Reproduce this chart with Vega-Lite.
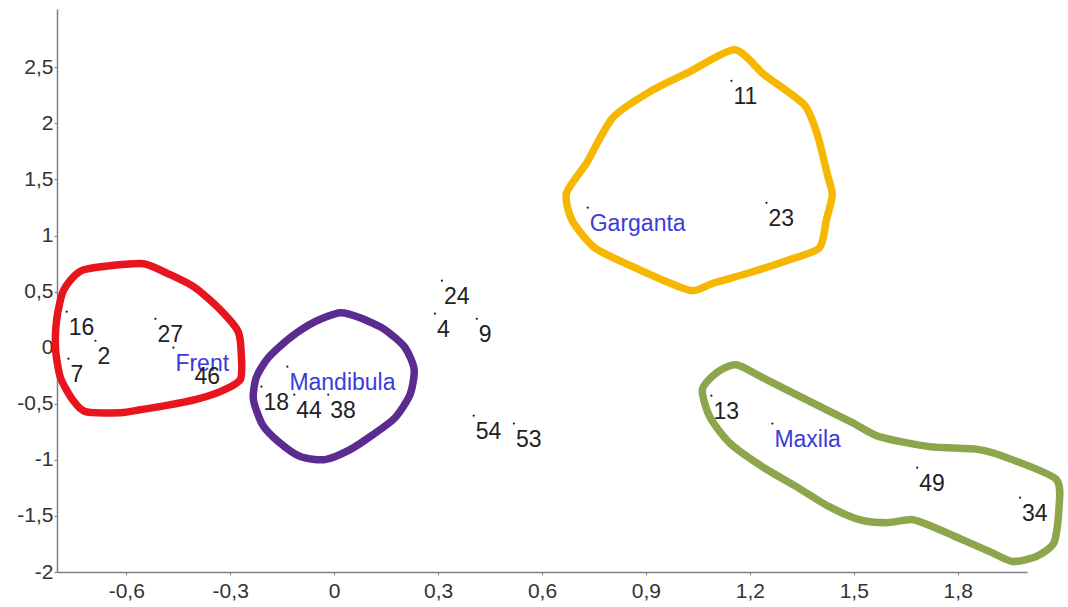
{
  "$schema": "https://vega.github.io/schema/vega-lite/v6.json",
  "width": 970,
  "height": 563,
  "autosize": {"type": "none"},
  "padding": {"left": 57, "top": 9, "right": 41, "bottom": 35},
  "background": "white",
  "config": {
    "view": {"stroke": null},
    "axis": {
      "grid": false,
      "title": null,
      "domainColor": "#808080",
      "domainWidth": 1.5,
      "tickColor": "#808080",
      "tickSize": 3,
      "labelColor": "#333333",
      "labelFont": "Liberation Sans",
      "labelFontSize": 21,
      "format": "~g",
      "labelExpr": "replace(replace(datum.label, '.', ','), '−', '-')"
    }
  },
  "datasets": {
    "points": [
      {"label": "16", "kind": "case", "x": -0.772, "y": 0.321},
      {"label": "2", "kind": "case", "x": -0.689, "y": 0.062},
      {"label": "7", "kind": "case", "x": -0.767, "y": -0.098},
      {"label": "27", "kind": "case", "x": -0.516, "y": 0.258},
      {"label": "Frent", "kind": "group", "x": -0.464, "y": 0.0},
      {"label": "46", "kind": "case", "x": -0.409, "y": -0.116},
      {"label": "18", "kind": "case", "x": -0.21, "y": -0.348},
      {"label": "Mandibula", "kind": "group", "x": -0.135, "y": -0.169},
      {"label": "44", "kind": "case", "x": -0.115, "y": -0.419},
      {"label": "38", "kind": "case", "x": -0.017, "y": -0.419},
      {"label": "24", "kind": "case", "x": 0.311, "y": 0.597},
      {"label": "4", "kind": "case", "x": 0.291, "y": 0.303},
      {"label": "9", "kind": "case", "x": 0.412, "y": 0.258},
      {"label": "54", "kind": "case", "x": 0.403, "y": -0.606},
      {"label": "53", "kind": "case", "x": 0.519, "y": -0.677},
      {"label": "Garganta", "kind": "group", "x": 0.732, "y": 1.248},
      {"label": "11", "kind": "case", "x": 1.147, "y": 2.38},
      {"label": "23", "kind": "case", "x": 1.248, "y": 1.292},
      {"label": "13", "kind": "case", "x": 1.089, "y": -0.428},
      {"label": "Maxila", "kind": "group", "x": 1.265, "y": -0.677},
      {"label": "49", "kind": "case", "x": 1.683, "y": -1.07},
      {"label": "34", "kind": "case", "x": 1.98, "y": -1.337}
    ],
    "loops": [
      {"g": "Frent", "i": 0, "x": -0.723, "y": 0.695},
      {"g": "Frent", "i": 1, "x": -0.646, "y": 0.731},
      {"g": "Frent", "i": 2, "x": -0.55, "y": 0.749},
      {"g": "Frent", "i": 3, "x": -0.473, "y": 0.651},
      {"g": "Frent", "i": 4, "x": -0.401, "y": 0.535},
      {"g": "Frent", "i": 5, "x": -0.329, "y": 0.339},
      {"g": "Frent", "i": 6, "x": -0.277, "y": 0.143},
      {"g": "Frent", "i": 7, "x": -0.268, "y": -0.062},
      {"g": "Frent", "i": 8, "x": -0.271, "y": -0.285},
      {"g": "Frent", "i": 9, "x": -0.329, "y": -0.392},
      {"g": "Frent", "i": 10, "x": -0.401, "y": -0.463},
      {"g": "Frent", "i": 11, "x": -0.487, "y": -0.517},
      {"g": "Frent", "i": 12, "x": -0.559, "y": -0.553},
      {"g": "Frent", "i": 13, "x": -0.617, "y": -0.579},
      {"g": "Frent", "i": 14, "x": -0.718, "y": -0.57},
      {"g": "Frent", "i": 15, "x": -0.755, "y": -0.463},
      {"g": "Frent", "i": 16, "x": -0.79, "y": -0.267},
      {"g": "Frent", "i": 17, "x": -0.804, "y": -0.018},
      {"g": "Frent", "i": 18, "x": -0.801, "y": 0.25},
      {"g": "Frent", "i": 19, "x": -0.784, "y": 0.49},
      {"g": "Frent", "i": 20, "x": -0.755, "y": 0.624},
      {"g": "Mandibula", "i": 0, "x": 0.017, "y": 0.312},
      {"g": "Mandibula", "i": 1, "x": 0.075, "y": 0.267},
      {"g": "Mandibula", "i": 2, "x": 0.147, "y": 0.16},
      {"g": "Mandibula", "i": 3, "x": 0.205, "y": 0.0},
      {"g": "Mandibula", "i": 4, "x": 0.231, "y": -0.196},
      {"g": "Mandibula", "i": 5, "x": 0.219, "y": -0.419},
      {"g": "Mandibula", "i": 6, "x": 0.176, "y": -0.624},
      {"g": "Mandibula", "i": 7, "x": 0.112, "y": -0.775},
      {"g": "Mandibula", "i": 8, "x": 0.046, "y": -0.909},
      {"g": "Mandibula", "i": 9, "x": -0.026, "y": -0.998},
      {"g": "Mandibula", "i": 10, "x": -0.098, "y": -0.971},
      {"g": "Mandibula", "i": 11, "x": -0.161, "y": -0.838},
      {"g": "Mandibula", "i": 12, "x": -0.207, "y": -0.686},
      {"g": "Mandibula", "i": 13, "x": -0.233, "y": -0.463},
      {"g": "Mandibula", "i": 14, "x": -0.225, "y": -0.267},
      {"g": "Mandibula", "i": 15, "x": -0.19, "y": -0.089},
      {"g": "Mandibula", "i": 16, "x": -0.127, "y": 0.089},
      {"g": "Mandibula", "i": 17, "x": -0.055, "y": 0.232},
      {"g": "Garganta", "i": 0, "x": 1.156, "y": 2.656},
      {"g": "Garganta", "i": 1, "x": 1.242, "y": 2.433},
      {"g": "Garganta", "i": 2, "x": 1.357, "y": 2.166},
      {"g": "Garganta", "i": 3, "x": 1.395, "y": 1.898},
      {"g": "Garganta", "i": 4, "x": 1.424, "y": 1.542},
      {"g": "Garganta", "i": 5, "x": 1.438, "y": 1.364},
      {"g": "Garganta", "i": 6, "x": 1.421, "y": 1.141},
      {"g": "Garganta", "i": 7, "x": 1.401, "y": 0.891},
      {"g": "Garganta", "i": 8, "x": 1.314, "y": 0.784},
      {"g": "Garganta", "i": 9, "x": 1.199, "y": 0.668},
      {"g": "Garganta", "i": 10, "x": 1.098, "y": 0.579},
      {"g": "Garganta", "i": 11, "x": 1.035, "y": 0.508},
      {"g": "Garganta", "i": 12, "x": 0.96, "y": 0.588},
      {"g": "Garganta", "i": 13, "x": 0.862, "y": 0.722},
      {"g": "Garganta", "i": 14, "x": 0.752, "y": 0.891},
      {"g": "Garganta", "i": 15, "x": 0.686, "y": 1.141},
      {"g": "Garganta", "i": 16, "x": 0.671, "y": 1.381},
      {"g": "Garganta", "i": 17, "x": 0.729, "y": 1.649},
      {"g": "Garganta", "i": 18, "x": 0.804, "y": 2.05},
      {"g": "Garganta", "i": 19, "x": 0.911, "y": 2.282},
      {"g": "Garganta", "i": 20, "x": 1.026, "y": 2.46},
      {"g": "Maxila", "i": 0, "x": 1.161, "y": -0.152},
      {"g": "Maxila", "i": 1, "x": 1.248, "y": -0.285},
      {"g": "Maxila", "i": 2, "x": 1.38, "y": -0.49},
      {"g": "Maxila", "i": 3, "x": 1.496, "y": -0.668},
      {"g": "Maxila", "i": 4, "x": 1.573, "y": -0.793},
      {"g": "Maxila", "i": 5, "x": 1.718, "y": -0.882},
      {"g": "Maxila", "i": 6, "x": 1.862, "y": -0.909},
      {"g": "Maxila", "i": 7, "x": 1.957, "y": -0.998},
      {"g": "Maxila", "i": 8, "x": 2.085, "y": -1.176},
      {"g": "Maxila", "i": 9, "x": 2.092, "y": -1.444},
      {"g": "Maxila", "i": 10, "x": 2.078, "y": -1.738},
      {"g": "Maxila", "i": 11, "x": 2.026, "y": -1.863},
      {"g": "Maxila", "i": 12, "x": 1.957, "y": -1.906},
      {"g": "Maxila", "i": 13, "x": 1.899, "y": -1.827},
      {"g": "Maxila", "i": 14, "x": 1.813, "y": -1.711},
      {"g": "Maxila", "i": 15, "x": 1.726, "y": -1.595},
      {"g": "Maxila", "i": 16, "x": 1.669, "y": -1.533},
      {"g": "Maxila", "i": 17, "x": 1.594, "y": -1.56},
      {"g": "Maxila", "i": 18, "x": 1.516, "y": -1.533},
      {"g": "Maxila", "i": 19, "x": 1.429, "y": -1.417},
      {"g": "Maxila", "i": 20, "x": 1.334, "y": -1.239},
      {"g": "Maxila", "i": 21, "x": 1.236, "y": -1.061},
      {"g": "Maxila", "i": 22, "x": 1.141, "y": -0.847},
      {"g": "Maxila", "i": 23, "x": 1.084, "y": -0.615},
      {"g": "Maxila", "i": 24, "x": 1.063, "y": -0.374},
      {"g": "Maxila", "i": 25, "x": 1.104, "y": -0.223}
    ]
  },
  "layer": [
    {
      "data": {"name": "loops"},
      "mark": {"type": "line", "strokeWidth": 7.5, "strokeJoin": "round", "strokeCap": "round", "clip": false, "interpolate": "cardinal-closed", "tension": 0.3},
      "encoding": {
        "x": {
          "field": "x", "type": "quantitative",
          "scale": {"domain": [-0.8, 2.0], "nice": false, "zero": false},
          "axis": {"values": [-0.6, -0.3, 0, 0.3, 0.6, 0.9, 1.2, 1.5, 1.8], "labelPadding": 5}
        },
        "y": {
          "field": "y", "type": "quantitative",
          "scale": {"domain": [-2, 3.02], "nice": false, "zero": false},
          "axis": {"values": [-2, -1.5, -1, -0.5, 0, 0.5, 1, 1.5, 2, 2.5], "labelPadding": 1}
        },
        "detail": {"field": "g"},
        "order": {"field": "i", "type": "quantitative"},
        "color": {
          "field": "g", "type": "nominal",
          "scale": {"domain": ["Frent", "Mandibula", "Garganta", "Maxila"], "range": ["#e8141e", "#5b2c8f", "#f5b700", "#8da64b"]},
          "legend": null
        }
      }
    },
    {
      "data": {"name": "points"},
      "mark": {"type": "point", "filled": true, "size": 5, "color": "#222222", "opacity": 1},
      "encoding": {
        "x": {"field": "x", "type": "quantitative"},
        "y": {"field": "y", "type": "quantitative"}
      }
    },
    {
      "data": {"name": "points"},
      "mark": {"type": "text", "align": "left", "baseline": "middle", "dx": 2, "dy": 16, "fontSize": 23, "font": "Liberation Sans"},
      "encoding": {
        "x": {"field": "x", "type": "quantitative"},
        "y": {"field": "y", "type": "quantitative"},
        "text": {"field": "label"},
        "color": {"condition": {"test": "datum.kind === 'group'", "value": "#3b3bd9"}, "value": "#222222"}
      }
    }
  ]
}
